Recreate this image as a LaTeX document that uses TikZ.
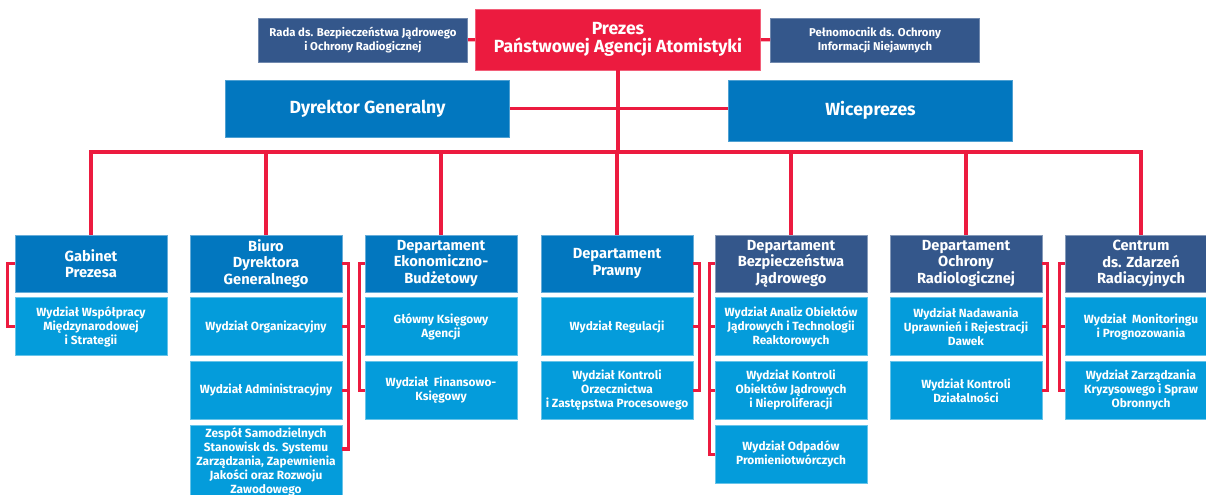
\documentclass[tikz,border=0pt]{standalone}
\usepackage{fontspec}
\setmainfont{Fira Sans}
\usepackage{tikz}
\usetikzlibrary{positioning}
\definecolor{alarm}{HTML}{EC1B3F}
\definecolor{navy}{HTML}{34578B}
\definecolor{corp}{HTML}{0277BF}
\definecolor{sky}{HTML}{049CDB}

\begin{document}
\begin{tikzpicture}[
  x=0.75pt, y=-0.75pt,
  node distance=3.8pt,
  box/.style={text=white, align=center, inner sep=1.5pt, line width=0.5pt},
  chief/.style={box, fill=alarm, draw=alarm!70!white, minimum width=213.75pt, minimum height=45.75pt, font=\fontsize{13.2}{14}\selectfont\bfseries},
  staff/.style={box, fill=navy, draw=navy!70!white, minimum width=157pt, minimum height=33pt, font=\fontsize{8.5}{10.5}\selectfont\bfseries},
  deputy/.style={box, fill=corp, draw=corp!70!white, minimum width=213pt, minimum height=43pt, font=\fontsize{13.2}{14}\selectfont\bfseries},
  dept/.style={box, fill=corp, draw=corp!60!white, minimum width=114pt, minimum height=42.75pt, font=\fontsize{11}{12.4}\selectfont\bfseries},
  deptdark/.style={dept, fill=navy, draw=navy!60!white},
  sect/.style={box, fill=sky, draw=sky!60!white, minimum width=114pt, minimum height=43.5pt, font=\fontsize{8.9}{10.5}\selectfont\bfseries},
  link/.style={draw=alarm, line width=2.5pt}
]
\path[use as bounding box, clip] (0,0) rectangle (1206,494);

% top level
\node[chief] (prezes) at (618,39.5) {Prezes\\Państwowej Agencji Atomistyki};
\node[staff] (rada) at (363,40) {Rada ds. Bezpieczeństwa Jądrowego\\i Ochrony Radiogicznej};
\node[staff] (pelnom) at (875,40) {Pełnomocnik ds. Ochrony\\Informacji Niejawnych};
\node[deputy] (dyr) at (367.5,108.5) {Dyrektor Generalny};
\node[deputy, minimum height=45.75pt] (wice) at (870.5,110.5) {Wiceprezes};
\coordinate (bus) at (618,152);

% departments
\node[dept] (gab) at (91,263.5) {Gabinet\\Prezesa};
\node[sect, below=of gab] (gab1) {Wydział Współpracy\\Międzynarodowej\\i Strategii};

\node[dept] (biuro) at (266,263.5) {Biuro\\Dyrektora\\Generalnego};
\node[sect, below=of biuro] (biuro1) {Wydział Organizacyjny};
\node[sect, below=of biuro1] (biuro2) {Wydział Administracyjny};
\node[sect, below=of biuro2] (biuro3) {Zespół Samodzielnych\\Stanowisk ds. Systemu\\Zarządzania, Zapewnienia\\Jakości oraz Rozwoju\\Zawodowego};

\node[dept] (ekon) at (441,263.5) {Departament\\Ekonomiczno-\\Budżetowy};
\node[sect, below=of ekon] (ekon1) {Główny Księgowy\\Agencji};
\node[sect, below=of ekon1] (ekon2) {Wydział~~Finansowo-\\Księgowy};

\node[dept] (prawny) at (617,263.5) {Departament\\Prawny};
\node[sect, below=of prawny] (prawny1) {Wydział Regulacji};
\node[sect, below=of prawny1] (prawny2) {Wydział Kontroli\\Orzecznictwa\\i Zastępstwa Procesowego};

\node[deptdark] (bezp) at (791,263.5) {Departament\\Bezpieczeństwa\\Jądrowego};
\node[sect, below=of bezp] (bezp1) {Wydział Analiz Obiektów\\Jądrowych i Technologii\\Reaktorowych};
\node[sect, below=of bezp1] (bezp2) {Wydział Kontroli\\Obiektów Jądrowych\\i Nieproliferacji};
\node[sect, below=of bezp2] (bezp3) {Wydział Odpadów\\Promieniotwórczych};

\node[deptdark] (ochr) at (966,263.5) {Departament\\Ochrony\\Radiologicznej};
\node[sect, below=of ochr] (ochr1) {Wydział Nadawania\\Uprawnień i Rejestracji\\Dawek};
\node[sect, below=of ochr1] (ochr2) {Wydział Kontroli\\Działalności};

\node[deptdark] (centr) at (1141,263.5) {Centrum\\ds. Zdarzeń\\Radiacyjnych};
\node[sect, below=of centr] (centr1) {Wydział~~Monitoringu\\i Prognozowania};
\node[sect, below=of centr1] (centr2) {Wydział Zarządzania\\Kryzysowego i Spraw\\Obronnych};

% connectors
\draw[link] (rada) -- (prezes);
\draw[link] (prezes) -- (pelnom);
\draw[link] (prezes.south) -- (bus);
\draw[link] (dyr.east) -- (dyr.east -| wice.west);
\foreach \d in {gab,biuro,ekon,prawny,bezp,ochr,centr}
  \draw[link] (\d.north) |- (bus);

\draw[link] (gab.west) -- ++(-7,0) |- (gab1.west);
\foreach \s in {biuro1,biuro2}
  \draw[link] (biuro.east) -- ++(6,0) |- (\s.east);
\draw[link] (biuro.east) -- ++(6,0) |- ([yshift=-18pt]biuro3.north east);
\foreach \s in {ekon1,ekon2}
  \draw[link] (ekon.west) -- ++(-5,0) |- (\s.west);
\foreach \s in {prawny1,prawny2}
  \draw[link] (prawny.east) -- ++(6,0) |- (\s.east);
\foreach \s in {bezp1,bezp2,bezp3}
  \draw[link] (bezp.west) -- ++(-5,0) |- (\s.west);
\foreach \s in {ochr1,ochr2}
  \draw[link] (ochr.east) -- ++(5,0) |- (\s.east);
\foreach \s in {centr1,centr2}
  \draw[link] (centr.west) -- ++(-5,0) |- (\s.west);
\end{tikzpicture}
\end{document}
